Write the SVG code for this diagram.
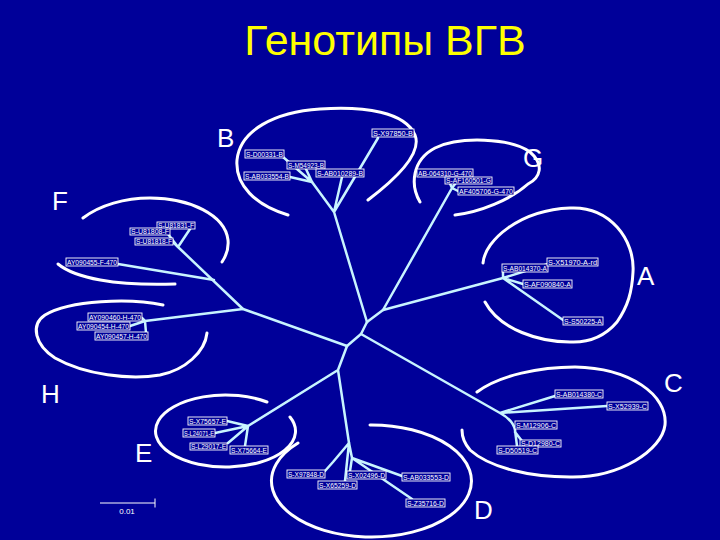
<svg xmlns="http://www.w3.org/2000/svg" width="720" height="540" viewBox="0 0 720 540">
<style>
.bg{fill:#000099}
.br{stroke:#C8F4FF;stroke-width:2.5;fill:none;stroke-linecap:round;stroke-linejoin:round}
.arc{stroke:#FFFFFF;stroke-width:3;fill:none;stroke-linecap:round}
.lb rect{fill:#000099;stroke:#FFFFFF;stroke-width:0.9}
.lb text{fill:#FFFFFF;font-family:"Liberation Sans",Arial,sans-serif;font-size:7px}
.grp{fill:#FFFFFF;font-family:"Liberation Sans",Arial,sans-serif;font-size:26px}
.title{fill:#FFFF00;font-family:"Liberation Sans",Arial,sans-serif;font-size:43px}
</style>
<rect class="bg" x="0" y="0" width="720" height="540"/>
<text class="title" x="385" y="55" text-anchor="middle">Генотипы ВГВ</text>

<g id="clusters">
<path class="arc" d="M288,215 C255,205 235,185 237,160 C240,130 275,112 320,109 C365,106 405,112 415,135 C421,150 405,172 368,200"/>
<path class="arc" d="M420,202 C410,185 412,160 435,148 C460,136 510,138 530,152 C545,165 540,178 528,184 C510,200 480,212 455,215"/>
<path class="arc" d="M83,218 C100,205 125,198 150,198 C190,198 225,215 228,240 C229,250 226,256 222,262"/>
<path class="arc" d="M58,264 C75,278 115,286 175,284"/>
<path class="arc" d="M163,305 C130,298 70,300 45,315 C30,325 35,345 55,358 C85,375 130,380 160,375 C185,370 205,352 207,333"/>
<path class="arc" d="M483,263 C485,240 520,210 570,208 C610,206 635,240 633,272 C632,292 628,306 617,322 C605,336 590,343 570,342 C540,342 500,330 485,302"/>
<path class="arc" d="M477,392 C500,375 540,367 575,367 C630,368 668,395 665,425 C662,450 620,478 570,477 C530,477 490,468 470,450 C464,443 462,436 462,430"/>
<path class="arc" d="M370,425 A100,56 0 1 1 298,443"/>
<path class="arc" d="M290,417 A70,36 0 1 1 267,402"/>
</g>

<g id="connectors">
<path class="br" d="M367,322 L361,334 L347,346"/>
<path class="br" d="M367,322 L334,212 M334,212 L312,182 M334,212 L342,177 M334,212 L378,138"/>
<path class="br" d="M312,182 L290,177 M312,182 L306,169 M312,182 L283,157"/>
<path class="br" d="M367,322 L383,310 L452,188 L458,191 M452,188 L455,184 M452,188 L447,177"/>
<path class="br" d="M383,310 L503,278 M503,278 L503,272 M503,278 L548,264 M503,278 L523,284 M503,278 L563,320"/>
<path class="br" d="M361,334 L500,413 L555,396 M500,413 L607,406 M500,413 Q513,420 515,430 L517,446 M515,432 L522,441"/>
<path class="br" d="M347,346 L338,370 L248,426 M338,370 L349,443"/>
<path class="br" d="M248,426 L227,421 M248,426 L215,433 M248,426 L228,443 M248,426 L245,446"/>
<path class="br" d="M349,443 L333,462 L325,471 M349,443 L352,458 L350,471 M352,458 L402,476 M352,458 L412,499 M349,443 L345,481"/>
<path class="br" d="M347,346 L243,309 L178,247 L173,242 M178,247 L168,234 M178,247 L190,229"/>
<path class="br" d="M214,280 L118,264"/>
<path class="br" d="M243,309 L145,321 L142,318 M145,321 L130,326 M145,321 L146,333"/>
</g>

<g id="B-labels">
<g id="n-X97850" class="lb"><rect x="372" y="129" width="42" height="8"/><text x="373" y="135.5" textLength="40" lengthAdjust="spacingAndGlyphs">S-X97850-B</text></g>
<g id="n-D00331" class="lb"><rect x="245" y="150" width="39" height="8"/><text x="246" y="156.5" textLength="37" lengthAdjust="spacingAndGlyphs">S-D00331-B</text></g>
<g id="n-M54923" class="lb"><rect x="287" y="161" width="38" height="8"/><text x="288" y="167.5" textLength="36" lengthAdjust="spacingAndGlyphs">S-M54923-B</text></g>
<g id="n-AB010289" class="lb"><rect x="316" y="169" width="48" height="8"/><text x="317" y="175.5" textLength="46" lengthAdjust="spacingAndGlyphs">S-AB010289-B</text></g>
<g id="n-AB033554" class="lb"><rect x="244" y="172" width="46" height="8"/><text x="245" y="178.5" textLength="44" lengthAdjust="spacingAndGlyphs">S-AB033554-B</text></g>
</g>

<g id="G-labels">
<g id="n-AB064310" class="lb"><rect x="417" y="169" width="56" height="8"/><text x="418" y="175.5" textLength="54" lengthAdjust="spacingAndGlyphs">AB-064310-G-470</text></g>
<g id="n-AF160501" class="lb"><rect x="445" y="177" width="47" height="7"/><text x="446" y="183" textLength="45" lengthAdjust="spacingAndGlyphs">S-AF160501-G</text></g>
<g id="n-AF405706" class="lb"><rect x="458" y="187" width="56" height="8"/><text x="459" y="193.5" textLength="54" lengthAdjust="spacingAndGlyphs">AF405706-G-470</text></g>
</g>

<g id="F-labels">
<g id="n-U81831" class="lb"><rect x="157" y="222" width="38" height="7"/><text x="158" y="228" textLength="36" lengthAdjust="spacingAndGlyphs">S-U81831-F</text></g>
<g id="n-U81808" class="lb"><rect x="130" y="228" width="40" height="7"/><text x="131" y="234" textLength="38" lengthAdjust="spacingAndGlyphs">S-U81808-F</text></g>
<g id="n-U81818" class="lb"><rect x="135" y="238" width="38" height="7"/><text x="136" y="244" textLength="36" lengthAdjust="spacingAndGlyphs">S-U81818-F</text></g>
<g id="n-AY090455" class="lb"><rect x="66" y="258" width="52" height="8"/><text x="67" y="264.5" textLength="50" lengthAdjust="spacingAndGlyphs">AY090455-F-470</text></g>
</g>

<g id="H-labels">
<g id="n-AY090460" class="lb"><rect x="88" y="313" width="54" height="8"/><text x="89" y="319.5" textLength="52" lengthAdjust="spacingAndGlyphs">AY090460-H-470</text></g>
<g id="n-AY090454" class="lb"><rect x="77" y="322" width="53" height="8"/><text x="78" y="328.5" textLength="51" lengthAdjust="spacingAndGlyphs">AY090454-H-470</text></g>
<g id="n-AY090457" class="lb"><rect x="95" y="332" width="53" height="8"/><text x="96" y="338.5" textLength="51" lengthAdjust="spacingAndGlyphs">AY090457-H-470</text></g>
</g>

<g id="A-labels">
<g id="n-AB014370" class="lb"><rect x="502" y="264" width="46" height="8"/><text x="503" y="270.5" textLength="44" lengthAdjust="spacingAndGlyphs">S-AB014370-A</text></g>
<g id="n-X51970" class="lb"><rect x="547" y="258" width="51" height="8"/><text x="548" y="264.5" textLength="49" lengthAdjust="spacingAndGlyphs">S-X51970-A-rd</text></g>
<g id="n-AF090840" class="lb"><rect x="523" y="280" width="49" height="8"/><text x="524" y="286.5" textLength="47" lengthAdjust="spacingAndGlyphs">S-AF090840-A</text></g>
<g id="n-S50225" class="lb"><rect x="563" y="317" width="40" height="8"/><text x="564" y="323.5" textLength="38" lengthAdjust="spacingAndGlyphs">S-S50225-A</text></g>
</g>

<g id="C-labels">
<g id="n-AB014380" class="lb"><rect x="555" y="390" width="48" height="8"/><text x="556" y="396.5" textLength="46" lengthAdjust="spacingAndGlyphs">S-AB014380-C</text></g>
<g id="n-X52939" class="lb"><rect x="607" y="402" width="41" height="8"/><text x="608" y="408.5" textLength="39" lengthAdjust="spacingAndGlyphs">S-X52939-C</text></g>
<g id="n-M12906" class="lb"><rect x="515" y="421" width="42" height="8"/><text x="516" y="427.5" textLength="40" lengthAdjust="spacingAndGlyphs">S-M12906-C</text></g>
<g id="n-D12980" class="lb"><rect x="520" y="440" width="41" height="7"/><text x="521" y="446" textLength="39" lengthAdjust="spacingAndGlyphs">S-D12980-C</text></g>
<g id="n-D50519" class="lb"><rect x="497" y="446" width="41" height="8"/><text x="498" y="452.5" textLength="39" lengthAdjust="spacingAndGlyphs">S-D50519-C</text></g>
</g>

<g id="E-labels">
<g id="n-X75657" class="lb"><rect x="188" y="417" width="39" height="8"/><text x="189" y="423.5" textLength="37" lengthAdjust="spacingAndGlyphs">S-X75657-E</text></g>
<g id="n-L24071" class="lb"><rect x="183" y="429" width="32" height="8"/><text x="184" y="435.5" textLength="30" lengthAdjust="spacingAndGlyphs">S-L24071-E</text></g>
<g id="n-L29017" class="lb"><rect x="190" y="443" width="37" height="7"/><text x="191" y="449" textLength="35" lengthAdjust="spacingAndGlyphs">S-L29017-E</text></g>
<g id="n-X75664" class="lb"><rect x="230" y="446" width="38" height="8"/><text x="231" y="452.5" textLength="36" lengthAdjust="spacingAndGlyphs">S-X75664-E</text></g>
</g>

<g id="D-labels">
<g id="n-X97848" class="lb"><rect x="287" y="470" width="38" height="8"/><text x="288" y="476.5" textLength="36" lengthAdjust="spacingAndGlyphs">S-X97848-D</text></g>
<g id="n-X02496" class="lb"><rect x="347" y="471" width="39" height="8"/><text x="348" y="477.5" textLength="37" lengthAdjust="spacingAndGlyphs">S-X02496-D</text></g>
<g id="n-X65259" class="lb"><rect x="318" y="481" width="39" height="8"/><text x="319" y="487.5" textLength="37" lengthAdjust="spacingAndGlyphs">S-X65259-D</text></g>
<g id="n-AB033553" class="lb"><rect x="402" y="473" width="48" height="8"/><text x="403" y="479.5" textLength="46" lengthAdjust="spacingAndGlyphs">S-AB033553-D</text></g>
<g id="n-Z35716" class="lb"><rect x="406" y="499" width="39" height="8"/><text x="407" y="505.5" textLength="37" lengthAdjust="spacingAndGlyphs">S-Z35716-D</text></g>
</g>

<g id="group-letters">
<text class="grp" x="217" y="147">B</text>
<text class="grp" x="523" y="167">G</text>
<text class="grp" x="52" y="210">F</text>
<text class="grp" x="637" y="285">A</text>
<text class="grp" x="664" y="392">C</text>
<text class="grp" x="41" y="403">H</text>
<text class="grp" x="135" y="462">E</text>
<text class="grp" x="474" y="519">D</text>
</g>

<g id="scale">
<path d="M100,503 L155,503 M155,498.5 L155,507.5" stroke="#FFFFFF" stroke-width="1" fill="none"/>
<text x="127" y="514" text-anchor="middle" fill="#FFFFFF" font-family="Liberation Sans, Arial, sans-serif" font-size="8">0.01</text>
</g>
</svg>
